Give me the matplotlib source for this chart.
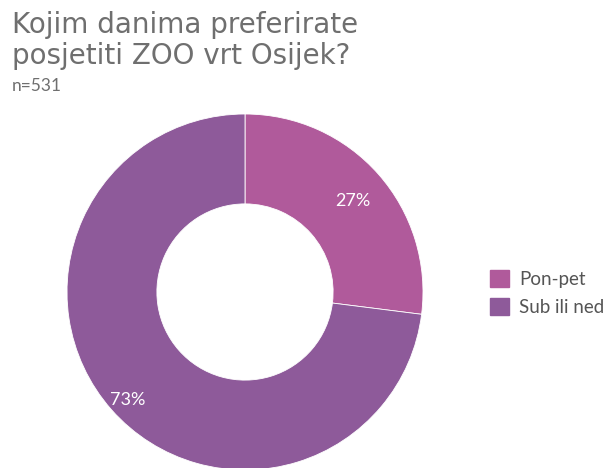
import numpy as np
import matplotlib.pyplot as plt
from matplotlib.patches import Patch

labels = ["Pon-pet", "Sub ili ned"]
values = [27, 73]
colors = ["#b05a9b", "#8e5a9a"]

fig = plt.figure(figsize=(6.05, 4.68), dpi=100)

# donut
ax = fig.add_axes([67 / 605, -2 / 468, 356 / 605, 356 / 468])
wedges, texts = ax.pie(
    values, colors=colors, startangle=90, counterclock=False,
    wedgeprops=dict(width=0.505, edgecolor="white", linewidth=0.6),
    radius=1.0)

# percent labels inside the ring
for w, v, r in zip(wedges, values, [0.81, 0.88]):
    ang = np.deg2rad((w.theta1 + w.theta2) / 2)
    ax.text(r * np.cos(ang), r * np.sin(ang) - 0.025, "%d%%" % v, ha="center", va="center",
            color="white", fontsize=13, fontfamily="Lato")
ax.set_xlim(-1, 1)
ax.set_ylim(-1, 1)
ax.set_aspect("equal")

# title
fig.text(12 / 605, 1 - 11 / 468, "Kojim danima preferirate\nposjetiti ZOO vrt Osijek?",
         ha="left", va="top", fontsize=20, color="#6f6f6f",
         fontfamily="DejaVu Sans", linespacing=1.15)
fig.text(12 / 605, 1 - 78 / 468, "n=531", ha="left", va="top",
         fontsize=12.5, color="#6f6f6f", fontfamily="Lato")

handles = [Patch(facecolor=c, edgecolor=c) for c in colors]
fig.legend(handles, labels, loc="center left", bbox_to_anchor=(473 / 605, 1 - 293 / 468),
           frameon=False, prop={"family": "Lato", "size": 13.5}, labelcolor="#555555",
           handlelength=1.0, handleheight=1.0, handletextpad=0.55, labelspacing=0.55)

fig.savefig("out.png", dpi=100)
